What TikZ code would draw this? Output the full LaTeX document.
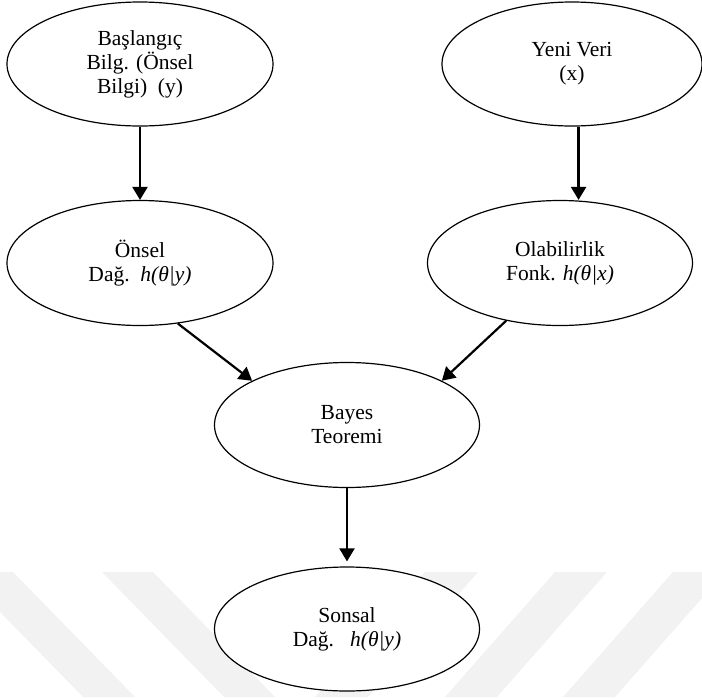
\documentclass[tikz,border=0pt]{standalone}
\usepackage{fontspec}
\setmainfont{Liberation Serif}
\usetikzlibrary{arrows.meta,shapes.geometric}
\tikzset{
  kap/.style={ellipse, draw, line width=1.2pt, fill=white, align=center,
    minimum width=265pt, minimum height=125pt,
    font=\fontsize{21.5}{24}\selectfont},
  ok/.style={line width=2.2pt, -{Triangle[length=13pt,width=15pt]}},
  iz/.style={fill=black!5}
}
\begin{document}
\begin{tikzpicture}[x=1pt,y=-1pt]
			%%%%% START %%%%%
			\useasboundingbox (0,0) rectangle (702,697);
			
			% soluk filigran
			\begin{scope}
			\clip (0,0) rectangle (702,697);
			\fill[iz] (-39,572) -- (13,572) -- (135,697) -- (83,697) -- cycle;
			\fill[iz] (102,572) -- (153,572) -- (275,697) -- (224,697) -- cycle;
			\fill[iz] (425,572) -- (478,572) -- (368,697) -- (315,697) -- cycle;
			\fill[iz] (555,572) -- (607,572) -- (497,697) -- (445,697) -- cycle;
			\fill[iz] (673,572) -- (725,572) -- (615,697) -- (563,697) -- cycle;
			\end{scope}
			
			\node[kap, minimum width=266pt, minimum height=124pt] (baslangic) at (140,64) {Başlangıç\\Bilg. (Önsel\\Bilgi)\ \ (y)};
			\node[kap, minimum width=260pt, minimum height=124pt] (yeni) at (572,64) {Yeni Veri\\(x)};
			
			\node[kap, minimum width=266pt] (onsel) at (140,263) {Önsel\\Dağ.\ \ \textit{h(θ|y)}};
			\node[kap] (olabilirlik) at (560,263) {Olabilirlik\\Fonk. \textit{h(θ|x)}};
			
			\node[kap] (bayes) at (347,425) {Bayes\\Teoremi};
			
			\node[kap, minimum height=124pt] (sonsal) at (347,629) {Sonsal\\Dağ.\ \ \ \textit{h(θ|y)}};
			
			\draw[ok] (baslangic.south) -- (onsel.north);
			\draw[ok] (yeni.-84.5) -- (yeni.-84.5 |- olabilirlik.north);
			\draw[ok] (onsel.-58) -- (bayes.155);
			\draw[ok] (olabilirlik.227) -- (bayes.25);
			\draw[ok, shorten >=5pt] (bayes.south) -- (sonsal.north);
			
			%%%%% END %%%%%
		\end{tikzpicture}
\end{document}
